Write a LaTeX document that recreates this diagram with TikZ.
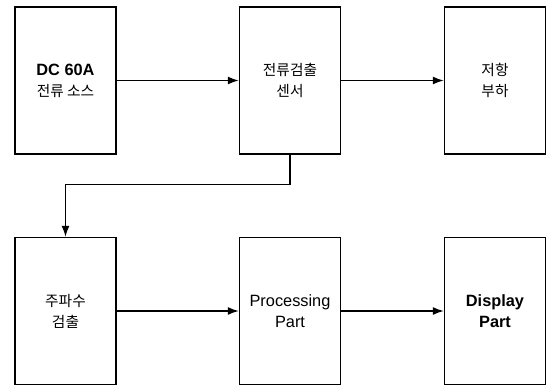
\documentclass[tikz,border=0pt]{standalone}
\usepackage{fontspec}
\setmainfont{Liberation Sans}
\newfontfamily\kr[Scale=0.9]{Noto Sans CJK KR}
\usetikzlibrary{arrows.meta, positioning}

\begin{document}
\begin{tikzpicture}[x=0.02cm, y=-0.02cm,
  blk/.style={draw, line width=0.8pt, minimum width=2.02cm, minimum height=2.94cm,
              align=center, font=\fontsize{9.3}{12}\selectfont, inner sep=0pt},
  arr/.style={-{Latex[length=2.2mm, width=1.6mm]}, line width=0.8pt}
]
\useasboundingbox (0,0) rectangle (547,385);
\node[blk] (src)  at ( 65.5, 80.5) {\textbf{DC 60A}\\{\kr 전류 소스}};
\node[blk] (sens) at (290.0, 80.5) {{\kr 전류검출}\\{\kr 센서}};
\node[blk] (load) at (495.0, 80.5) {{\kr 저항}\\{\kr 부하}};
\node[blk] (freq) at ( 65.5,311.0) {{\kr 주파수}\\{\kr 검출}};
\node[blk] (proc) at (290.0,311.0) {Processing\\Part};
\node[blk] (disp) at (495.0,311.0) {\textbf{Display}\\\textbf{Part}};
\draw[arr] (src)--(sens); \draw[arr] (sens)--(load);
\draw[arr] (freq)--(proc); \draw[arr] (proc)--(disp);
\draw[arr] (sens.south) -- ++(0,30) -| (freq.north);
\end{tikzpicture}
\end{document}
